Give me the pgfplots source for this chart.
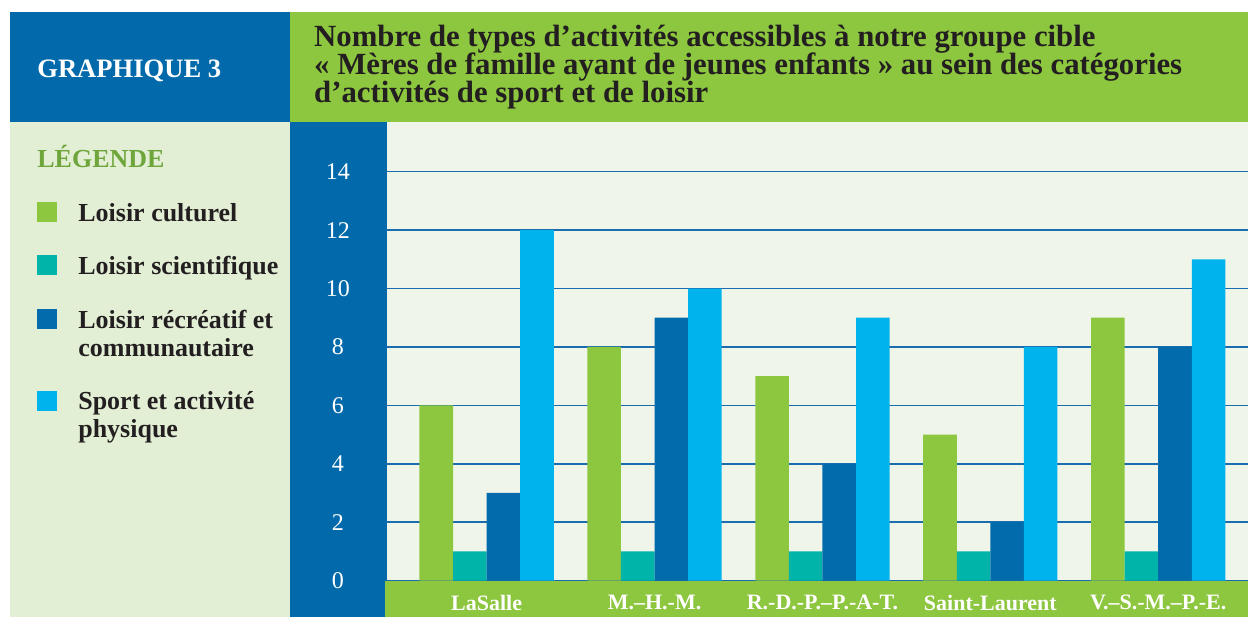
\documentclass[border=0pt]{standalone}
\usepackage{fontspec}
\setmainfont{Liberation Serif}
\usepackage{pgfplots}
\pgfplotsset{compat=1.18}
\definecolor{hdrgreen}{HTML}{8DC63F}
\definecolor{hdrblue}{HTML}{026AAA}
\definecolor{legbg}{HTML}{E2EFD5}
\definecolor{plotbg}{HTML}{F0F5E9}
\definecolor{legtitle}{HTML}{6FA63B}
\definecolor{cult}{HTML}{8DC63F}
\definecolor{scien}{HTML}{00B4AA}
\definecolor{recre}{HTML}{016BAB}
\definecolor{sport}{HTML}{00B3EC}
\definecolor{gridblue}{HTML}{1B6DAE}
\definecolor{txt}{HTML}{231F20}

\begin{document}
\begin{tikzpicture}
% frame, header and legend panel (1 unit = 1 px of the reference)
\begin{scope}[x=0.5pt,y=-0.5pt]
  \path[fill=white] (0,0) rectangle (1249,617);
  \fill[hdrblue] (10,12) rectangle (290,122);
  \fill[hdrgreen] (290,12) rectangle (1249,122);
  \fill[legbg] (10,122) rectangle (290,617);
  \fill[hdrblue] (290,122) rectangle (387,617);
  \fill[plotbg] (387,122) rectangle (1249,581);
  \fill[hdrgreen] (385,581) rectangle (1249,617);

  \node[anchor=base west, inner sep=0, text=white, font=\bfseries\fontsize{13.3}{15}\selectfont] at (37,78) {GRAPHIQUE 3};

  \begin{scope}[every node/.style={anchor=base west, inner sep=0, text=txt, font=\bfseries\fontsize{15.4}{17}\selectfont}]
    \node at (314,47) {Nombre de types d’activités accessibles à notre groupe cible};
    \node at (314,75) {« Mères de famille ayant de jeunes enfants » au sein des catégories};
    \node at (314,103) {d’activités de sport et de loisir};
  \end{scope}

  \node[anchor=base west, inner sep=0, text=legtitle, font=\bfseries\fontsize{13}{15}\selectfont] at (37,168) {LÉGENDE};
  \fill[cult]  (37,202) rectangle (57,222);
  \fill[scien] (37,255) rectangle (57,275);
  \fill[recre] (37,309) rectangle (57,329);
  \fill[sport] (37,391) rectangle (57,411);
  \begin{scope}[every node/.style={anchor=base west, inner sep=0, text=txt, font=\bfseries\fontsize{13}{15}\selectfont}]
    \node at (78,222) {Loisir culturel};
    \node at (78,275) {Loisir scientifique};
    \node at (78,329) {Loisir récréatif et};
    \node at (78,357) {communautaire};
    \node at (78,410) {Sport et activité};
    \node at (78,438) {physique};
  \end{scope}
\end{scope}

\begin{axis}[
  at={(193.5pt,-290.5pt)}, anchor=south west,
  scale only axis, width=431pt, height=229pt,
  xmin=-0.595, xmax=4.536, ymin=0, ymax=15.67,
  axis line style={draw=none},
  major tick length=0pt,
  ytick={0,2,...,14},
  ymajorgrids, grid style={gridblue, line width=0.8pt},
  xtick={0,1,2,3,4},
  xticklabels={LaSalle, M.–H.-M., R.-D.-P.–P.-A-T., Saint-Laurent, V.–S.-M.–P.-E.},
  /pgf/number format/assume math mode=true,
  yticklabel style={anchor=center, xshift=-24.5pt, text=white, font=\fontsize{12}{14}\selectfont},
  xticklabel style={anchor=center, yshift=-11pt, text=white, font=\bfseries\fontsize{11}{13}\selectfont},
  ybar=0pt, bar width=0.2,
  every axis plot/.append style={draw=none},
]
\addplot[fill=cult]  coordinates {(0,6) (1,8) (2,7) (3,5) (4,9)};
\addplot[fill=scien] coordinates {(0,1) (1,1) (2,1) (3,1) (4,1)};
\addplot[fill=recre] coordinates {(0,3) (1,9) (2,4) (3,2) (4,8)};
\addplot[fill=sport] coordinates {(0,12) (1,10) (2,9) (3,8) (4,11)};
\end{axis}
\end{tikzpicture}
\end{document}
